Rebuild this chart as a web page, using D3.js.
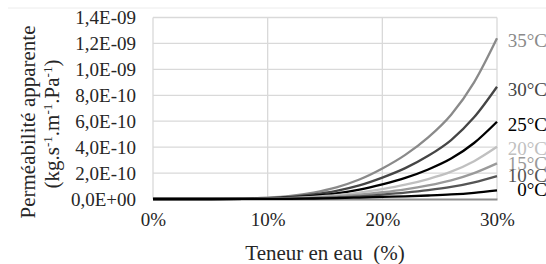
<!DOCTYPE html>
<html>
<head>
<meta charset="utf-8">
<script src="https://cdn.jsdelivr.net/npm/d3@7"></script>
<style>
  body { margin: 0; background: #fff; }
  svg { display: block; }
</style>
</head>
<body>
<div id="chart"></div>
<script>
// water content (%)
const teneur = [0, 5, 8, 10, 12, 14, 16, 18, 20, 22, 24, 26, 28, 30];

// apparent permeability, in units of 1E-10 kg.s-1.m-1.Pa-1
const t35 = [0, 0, 0.03, 0.10, 0.24, 0.50, 0.90, 1.50, 2.35, 3.40, 4.75, 6.50, 9.00, 12.40];
const t30 = [0, 0, 0.02, 0.07, 0.17, 0.35, 0.63, 1.05, 1.65, 2.38, 3.33, 4.55, 6.30, 8.66];
const t25 = [0, 0, 0.015, 0.05, 0.12, 0.24, 0.43, 0.72, 1.13, 1.63, 2.28, 3.12, 4.32, 5.96];
const t20 = [0, 0, 0.01, 0.03, 0.08, 0.16, 0.29, 0.49, 0.76, 1.10, 1.54, 2.11, 2.92, 4.03];
const t15 = [0, 0, 0.007, 0.02, 0.05, 0.11, 0.20, 0.33, 0.52, 0.75, 1.05, 1.44, 2.00, 2.75];
const t10 = [0, 0, 0.004, 0.014, 0.034, 0.07, 0.13, 0.21, 0.34, 0.49, 0.68, 0.93, 1.29, 1.77];
const t0  = [0, 0, 0.002, 0.006, 0.013, 0.04, 0.07, 0.11, 0.16, 0.21, 0.27, 0.35, 0.48, 0.67];

const series = [
  { name: '35°C', values: t35, color: '#8a8a8a' },
  { name: '30°C', values: t30, color: '#454545' },
  { name: '25°C', values: t25, color: '#000000' },
  { name: '20°C', values: t20, color: '#c0c0c0' },
  { name: '15°C', values: t15, color: '#9a9a9a' },
  { name: '10°C', values: t10, color: '#555555' },
  { name: '0°C',  values: t0,  color: '#000000' },
];

const yTicks = [0, 2, 4, 6, 8, 10, 12, 14];
const yTickLabels = ['0,0E+00', '2,0E-10', '4,0E-10', '6,0E-10', '8,0E-10', '1,0E-09', '1,2E-09', '1,4E-09'];
const xTicks = [0, 10, 20, 30];

const SERIF = '"Liberation Serif", serif';
const width = 546, height = 264;
const margin = { top: 17.5, right: 49, bottom: 65, left: 153 };
const innerW = width - margin.left - margin.right;
const innerH = height - margin.top - margin.bottom;

const svg = d3.select('#chart').append('svg')
  .attr('width', width)
  .attr('height', height)
  .style('font-family', SERIF);

// faint separator at the top of the figure
svg.append('line')
  .attr('x1', 8).attr('x2', width)
  .attr('y1', 8).attr('y2', 8)
  .attr('stroke', '#ececec').attr('stroke-width', 1);

const g = svg.append('g')
  .attr('transform', `translate(${margin.left},${margin.top})`);

const x = d3.scaleLinear().domain([0, 30]).range([0, innerW]);
const y = d3.scaleLinear().domain([0, 14]).range([innerH, 0]);

// gridlines
g.append('g').selectAll('line').data(yTicks.slice(1)).enter().append('line')
  .attr('x1', 0).attr('x2', innerW)
  .attr('y1', d => y(d)).attr('y2', d => y(d))
  .attr('stroke', '#d9d9d9').attr('stroke-width', 1.3);

g.append('g').selectAll('line').data(xTicks).enter().append('line')
  .attr('x1', d => x(d)).attr('x2', d => x(d))
  .attr('y1', 0).attr('y2', innerH)
  .attr('stroke', '#d9d9d9').attr('stroke-width', 1.3);

// x axis
const xAxis = g.append('g')
  .attr('transform', `translate(0,${innerH})`)
  .call(d3.axisBottom(x).tickValues(xTicks).tickSize(0).tickPadding(14).tickFormat(d => d + '%'));
xAxis.select('.domain').attr('stroke', '#8c8c8c').attr('stroke-width', 1.8);
xAxis.selectAll('text').attr('fill', '#262626').style('font-family', SERIF).style('font-size', '19px');

// y axis
const yAxis = g.append('g')
  .call(d3.axisLeft(y).tickValues(yTicks).tickSize(0).tickPadding(17).tickFormat((d, i) => yTickLabels[i]));
yAxis.select('.domain').remove();
yAxis.selectAll('text').attr('fill', '#262626').style('font-family', SERIF).style('font-size', '19px');

// curves
const line = d3.line()
  .x((d, i) => x(teneur[i]))
  .y(d => y(d))
  .curve(d3.curveMonotoneX);

g.append('g').selectAll('path').data(series).enter().append('path')
  .attr('d', d => line(d.values))
  .attr('fill', 'none')
  .attr('stroke', d => d.color)
  .attr('stroke-width', 2.3)
  .attr('stroke-linejoin', 'round');

// end labels
const labelY = { '35°C': 40, '30°C': 89, '25°C': 124, '20°C': 148, '15°C': 163, '10°C': 175, '0°C': 189 };
svg.append('g').selectAll('text').data(series).enter().append('text')
  .attr('x', 547)
  .attr('y', d => labelY[d.name])
  .attr('dy', '0.35em')
  .attr('text-anchor', 'end')
  .style('font-size', '19px')
  .attr('fill', d => d.color)
  .text(d => d.name);

// axis titles
svg.append('text')
  .attr('x', margin.left + innerW / 2)
  .attr('y', 253)
  .attr('dy', '0.35em')
  .attr('text-anchor', 'middle')
  .style('font-size', '21px')
  .style('white-space', 'pre')
  .attr('fill', '#262626')
  .text('Teneur en eau  (%)');

svg.append('text')
  .attr('transform', 'translate(28,122) rotate(-90)')
  .attr('text-anchor', 'middle')
  .style('font-size', '21px')
  .attr('fill', '#262626')
  .attr('dy', '0.35em')
  .text('Perméabilité apparente');

const yTitle2 = svg.append('text')
  .attr('transform', 'translate(52,124) rotate(-90)')
  .attr('text-anchor', 'middle')
  .style('font-size', '21px')
  .attr('fill', '#262626');
const parts = [['(kg.s', false], ['-1', true], ['.m', false], ['-1', true], ['.Pa', false], ['-1', true], [')', false]];
let shifted = false;
parts.forEach(([t, sup], i) => {
  const ts = yTitle2.append('tspan').text(t);
  if (i === 0) ts.attr('dy', '0.35em');
  else if (sup) { ts.style('font-size', '13px').attr('dy', '-0.55em'); shifted = true; }
  else if (shifted) { ts.attr('dy', '0.34em'); shifted = false; }
});
</script>
</body>
</html>
